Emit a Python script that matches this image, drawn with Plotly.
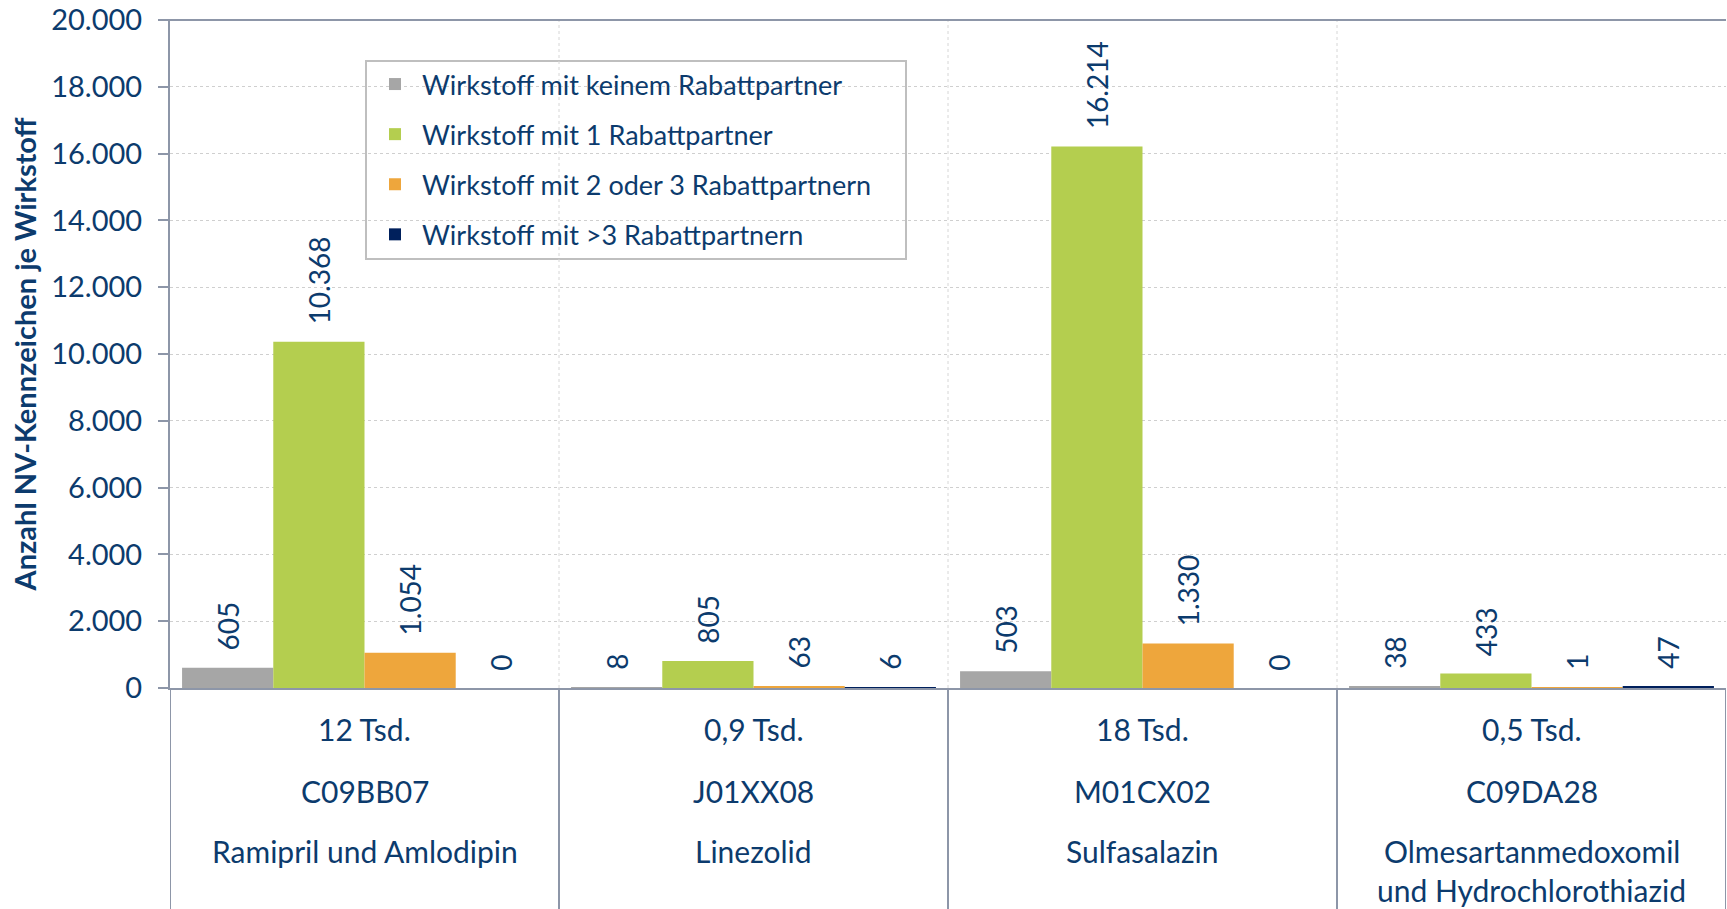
import plotly.graph_objects as go

categories = ["C09BB07", "J01XX08", "M01CX02", "C09DA28"]
tsd_labels = ["12 Tsd.", "0,9 Tsd.", "18 Tsd.", "0,5 Tsd."]
names = ["Ramipril und Amlodipin", "Linezolid", "Sulfasalazin",
         "Olmesartanmedoxomil<br>und Hydrochlorothiazid"]

series_names = ["Wirkstoff mit keinem Rabattpartner",
                "Wirkstoff mit 1 Rabattpartner",
                "Wirkstoff mit 2 oder 3 Rabattpartnern",
                "Wirkstoff mit >3 Rabattpartnern"]
keine = [605, 8, 503, 38]
eins = [10368, 805, 16214, 433]
zwei_drei = [1054, 63, 1330, 1]
mehr_drei = [0, 6, 0, 47]
series_values = [keine, eins, zwei_drei, mehr_drei]
colors = ["#A6A6A6", "#B4CE4F", "#EEA63C", "#00205C"]

y_ticks = list(range(0, 20001, 2000))

TXT = "#0C3B6D"
AX = "#8D96A8"
FONT = "Lato"

W, H = 1727, 909
ML, MR, MT, MB = 170, 1, 20, 221
plot_h = H - MT - MB
plot_w = W - ML - MR


def py(pix):
    return (H - MB - pix) / plot_h


def px(pix):
    return (pix - ML) / plot_w


fig = go.Figure()
for i, (nm, vals, col) in enumerate(zip(series_names, series_values, colors)):
    fig.add_trace(go.Bar(
        x=categories, y=vals, name=nm, marker_color=col,
        marker_line_width=0,
        texttemplate="\u00a0\u00a0%{y:,d}", textposition="outside",
        textangle=-90, cliponaxis=False, constraintext="none",
        textfont=dict(family=FONT, size=28, color=TXT),
        legendgroup=f"g{i}",
    ))

shapes = []
for k in range(len(categories) + 1):
    xb = k - 0.5
    shapes.append(dict(type="line", xref="x", yref="paper", x0=xb, x1=xb,
                       y0=0, y1=-MB / plot_h, line=dict(color=AX, width=2)))
    if 0 < k < len(categories):
        shapes.append(dict(type="line", xref="x", yref="paper", x0=xb, x1=xb,
                           y0=0, y1=1, line=dict(color="#D6D6D6", width=1, dash="dot")))
shapes.append(dict(type="line", xref="paper", yref="paper", x0=-10 / plot_w, x1=1,
                   y0=1, y1=1, line=dict(color=AX, width=2)))
# legend frame
shapes.append(dict(type="rect", xref="paper", yref="paper", x0=px(366), x1=px(906),
                   y0=py(259), y1=py(61), line=dict(color="#BFBFBF", width=2),
                   fillcolor="white", layer="below"))

annotations = []
cat_font = dict(family=FONT, size=30, color=TXT)
for i, cat in enumerate(categories):
    annotations.append(dict(x=cat, y=py(729), xref="x", yref="paper", text=tsd_labels[i],
                            showarrow=False, yanchor="middle", font=cat_font))
    annotations.append(dict(x=cat, y=py(791), xref="x", yref="paper", text=cat,
                            showarrow=False, yanchor="middle", font=cat_font))
    for j, line in enumerate(names[i].split("<br>")):
        annotations.append(dict(x=cat, y=py(851 + 39 * j), xref="x", yref="paper", text=line,
                                showarrow=False, yanchor="middle", font=cat_font))

fig.update_layout(
    width=W, height=H,
    margin=dict(l=ML, r=MR, t=MT, b=MB),
    paper_bgcolor="white", plot_bgcolor="white",
    barmode="group", bargap=0.062, bargroupgap=0,
    separators=",.",
    font=dict(family=FONT, color=TXT),
    showlegend=True,
    legend=dict(x=px(368), y=py(60), xanchor="left", yanchor="top",
                bgcolor="rgba(0,0,0,0)", borderwidth=0, itemwidth=44,
                font=dict(family=FONT, size=27, color=TXT),
                tracegroupgap=12, traceorder="grouped"),
    shapes=shapes,
    annotations=annotations,
)
fig.update_xaxes(showticklabels=False, showgrid=False, showline=True,
                 linecolor=AX, linewidth=2, ticks="", zeroline=False,
                 range=[-0.5, len(categories) - 0.5])
fig.update_yaxes(range=[0, 20000], tickvals=y_ticks, tickformat=",d",
                 showgrid=True, gridcolor="#CFCFCF", griddash="dot", gridwidth=1,
                 showline=True, linecolor=AX, linewidth=2,
                 ticks="outside", ticklen=10, tickcolor=AX, tickwidth=2,
                 ticklabelstandoff=10,
                 tickfont=dict(family=FONT, size=29, color=TXT),
                 zeroline=False,
                 title=dict(text="<b>Anzahl NV-Kennzeichen je Wirkstoff</b>",
                            font=dict(family=FONT, size=29, color=TXT), standoff=6))

fig.write_html("out.html", config={"displayModeBar": False},
               post_script="document.body.style.margin='0';document.body.style.overflow='hidden';")
